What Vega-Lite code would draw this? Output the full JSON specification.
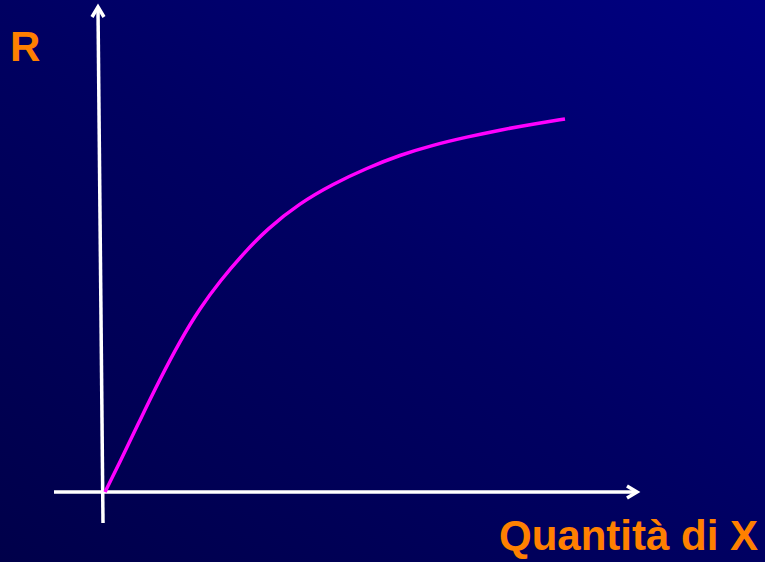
{
  "$schema": "https://vega.github.io/schema/vega-lite/v6.json",
  "width": 765,
  "height": 562,
  "autosize": {"type": "fit", "contains": "padding"},
  "padding": 0,
  "background": "#00004e",
  "config": {"view": {"stroke": null}},
  "datasets": {
    "frame": [{"x": -105, "x2": 660, "y": -70, "y2": 492}],
    "curve": [
      {"x": 0, "y": 0}, {"x": 15, "y": 30}, {"x": 35, "y": 72}, {"x": 55, "y": 113},
      {"x": 75, "y": 151}, {"x": 95, "y": 184}, {"x": 115, "y": 211}, {"x": 138, "y": 238},
      {"x": 162, "y": 263}, {"x": 195, "y": 289}, {"x": 228, "y": 308}, {"x": 262, "y": 324},
      {"x": 295, "y": 337}, {"x": 328, "y": 347}, {"x": 362, "y": 355}, {"x": 395, "y": 362},
      {"x": 428, "y": 368}, {"x": 460, "y": 373}
    ],
    "axes": [
      {"x": -7, "y": 483, "x2": -2, "y2": -31},
      {"x": -51, "y": 0, "x2": 530, "y2": 0}
    ],
    "arrows": [
      {"x": -7, "y": 485, "dir": "up"},
      {"x": 532, "y": 0, "dir": "right"}
    ],
    "labels": [
      {"x": -95, "y": 431, "label": "R", "pos": "left"},
      {"x": 653, "y": -58, "label": "Quantità di X", "pos": "right"}
    ]
  },
  "layer": [
    {
      "data": {"name": "frame"},
      "mark": {
        "type": "rect",
        "fill": {
          "gradient": "linear", "x1": 0, "y1": 1, "x2": 1, "y2": 0,
          "stops": [
            {"offset": 0, "color": "#00004a"},
            {"offset": 0.5, "color": "#000062"},
            {"offset": 1, "color": "#000082"}
          ]
        }
      },
      "encoding": {
        "x": {"field": "x", "type": "quantitative", "scale": {"domain": [-105, 660], "nice": false, "zero": false}, "axis": null},
        "x2": {"field": "x2"},
        "y": {"field": "y", "type": "quantitative", "scale": {"domain": [-70, 492], "nice": false, "zero": false}, "axis": null},
        "y2": {"field": "y2"}
      }
    },
    {
      "data": {"name": "axes"},
      "mark": {"type": "rule", "color": "white", "strokeWidth": 3.5},
      "encoding": {
        "x": {"field": "x", "type": "quantitative"},
        "x2": {"field": "x2"},
        "y": {"field": "y", "type": "quantitative"},
        "y2": {"field": "y2"}
      }
    },
    {
      "data": {"name": "arrows"},
      "transform": [{"filter": "datum.dir === 'right'"}],
      "mark": {"type": "point", "shape": "M -1 -0.6 L 0 0 L -1 0.6", "filled": false, "stroke": "white", "strokeWidth": 3.5, "size": 400, "opacity": 1},
      "encoding": {
        "x": {"field": "x", "type": "quantitative"},
        "y": {"field": "y", "type": "quantitative"}
      }
    },
    {
      "data": {"name": "arrows"},
      "transform": [{"filter": "datum.dir === 'up'"}],
      "mark": {"type": "point", "shape": "M -0.6 1 L 0 0 L 0.6 1", "filled": false, "stroke": "white", "strokeWidth": 3.5, "size": 400, "opacity": 1},
      "encoding": {
        "x": {"field": "x", "type": "quantitative"},
        "y": {"field": "y", "type": "quantitative"}
      }
    },
    {
      "data": {"name": "curve"},
      "mark": {"type": "line", "color": "#ff00ff", "strokeWidth": 3.5, "interpolate": "basis"},
      "encoding": {
        "x": {"field": "x", "type": "quantitative"},
        "y": {"field": "y", "type": "quantitative"}
      }
    },
    {
      "data": {"name": "labels"},
      "transform": [{"filter": "datum.pos === 'left'"}],
      "mark": {"type": "text", "align": "left", "baseline": "alphabetic", "font": "Liberation Sans", "fontWeight": "bold", "fontSize": 42, "color": "#ff8000"},
      "encoding": {
        "x": {"field": "x", "type": "quantitative"},
        "y": {"field": "y", "type": "quantitative"},
        "text": {"field": "label"}
      }
    },
    {
      "data": {"name": "labels"},
      "transform": [{"filter": "datum.pos === 'right'"}],
      "mark": {"type": "text", "align": "right", "baseline": "alphabetic", "font": "Liberation Sans", "fontWeight": "bold", "fontSize": 42, "color": "#ff8000"},
      "encoding": {
        "x": {"field": "x", "type": "quantitative"},
        "y": {"field": "y", "type": "quantitative"},
        "text": {"field": "label"}
      }
    }
  ]
}
